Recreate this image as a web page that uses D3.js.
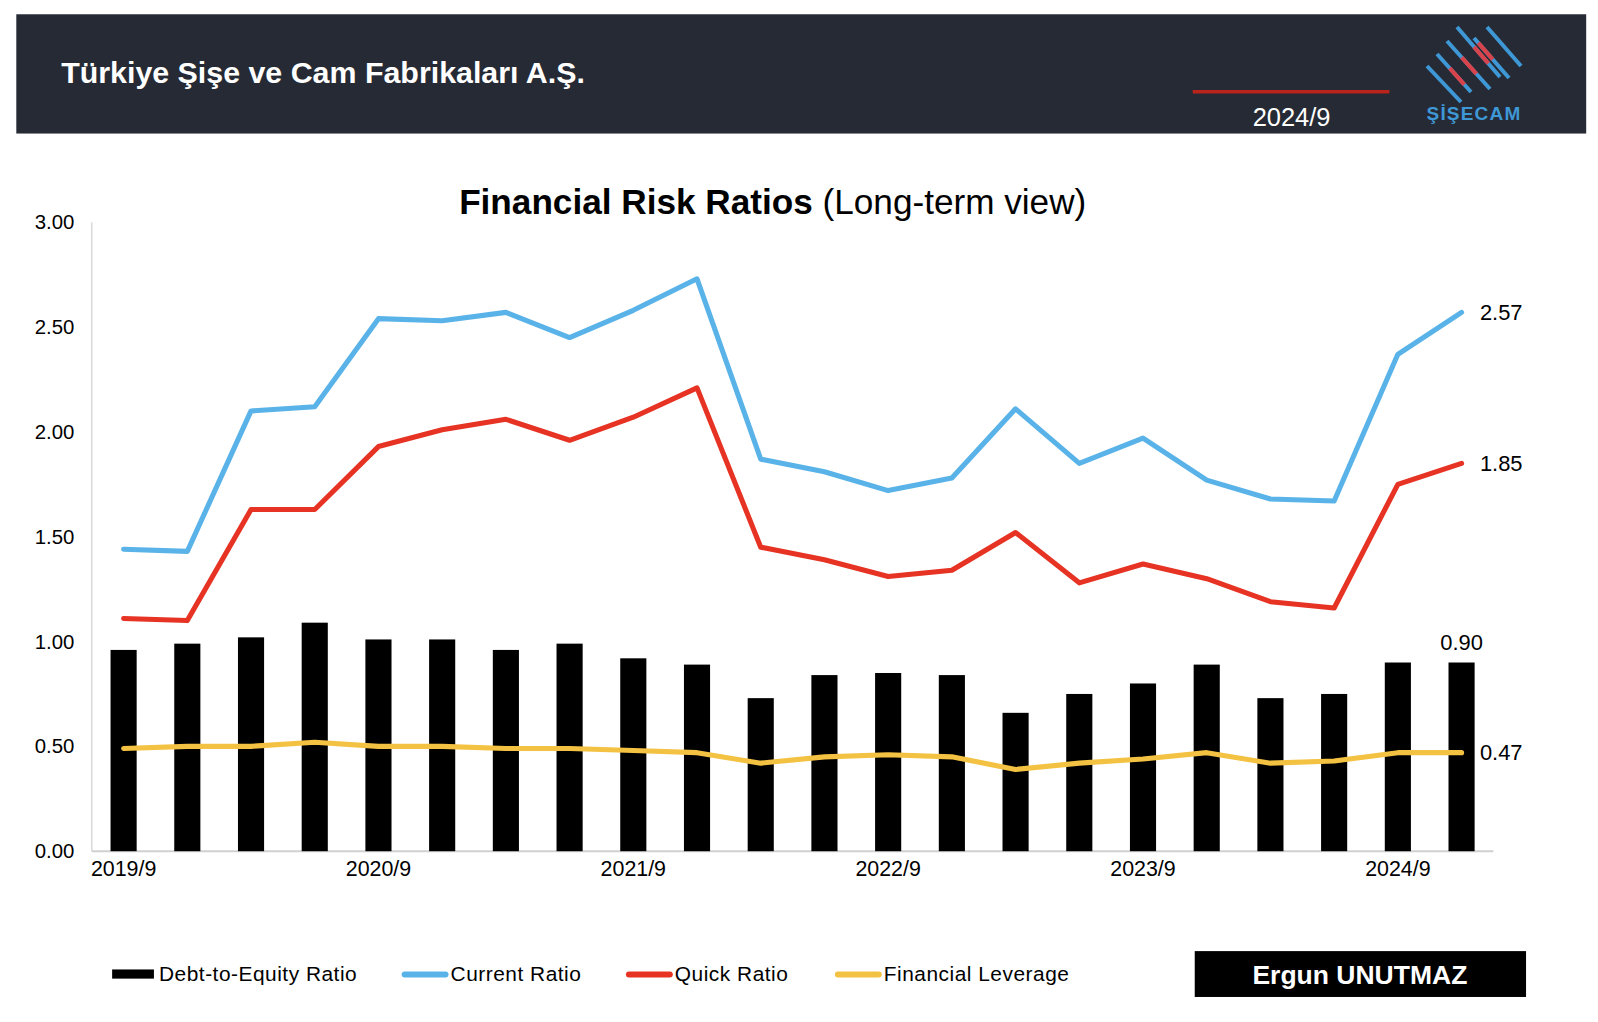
<!DOCTYPE html>
<html>
<head>
<meta charset="utf-8">
<script src="https://cdn.jsdelivr.net/npm/d3@7"></script>
<style>
  body { margin: 0; background: #fff; }
  svg { display: block; font-family: "Liberation Sans", Arial, Helvetica, sans-serif; }
</style>
</head>
<body>
<svg id="chart" width="1598" height="1022"></svg>
<script>
// quarterly periods, 2019/9 .. 2024/12
const periods = ["2019/9","2019/12","2020/3","2020/6","2020/9","2020/12","2021/3","2021/6",
  "2021/9","2021/12","2022/3","2022/6","2022/9","2022/12","2023/3","2023/6",
  "2023/9","2023/12","2024/3","2024/6","2024/9","2024/12"];
const tickLabels = ["2019/9","2020/9","2021/9","2022/9","2023/9","2024/9"];
const yTicks = [0, 0.5, 1, 1.5, 2, 2.5, 3];

const debtToEquity = [0.96,0.99,1.02,1.09,1.01,1.01,0.96,0.99,0.92,0.89,0.73,0.84,
  0.85,0.84,0.66,0.75,0.80,0.89,0.73,0.75,0.90,0.90];
const currentRatio = [1.44,1.43,2.10,2.12,2.54,2.53,2.57,2.45,2.58,2.73,1.87,1.81,
  1.72,1.78,2.11,1.85,1.97,1.77,1.68,1.67,2.37,2.57];
const quickRatio = [1.11,1.10,1.63,1.63,1.93,2.01,2.06,1.96,2.07,2.21,1.45,1.39,
  1.31,1.34,1.52,1.28,1.37,1.30,1.19,1.16,1.75,1.85];
const finLeverage = [0.49,0.50,0.50,0.52,0.50,0.50,0.49,0.49,0.48,0.47,0.42,0.45,
  0.46,0.45,0.39,0.42,0.44,0.47,0.42,0.43,0.47,0.47];

const colors = { bar: "#000000", current: "#5ab3e8", quick: "#e63323", leverage: "#f4c242" };

const svg = d3.select("#chart");
// layout was measured on a slightly smaller copy, so scale it up
const root = svg.append("g").attr("transform", "scale(1.0194)");

// header band
root.append("rect").attr("x", 16).attr("y", 14).attr("width", 1540).attr("height", 117)
  .attr("fill", "#252a35");
root.append("text").attr("x", 60).attr("y", 81).attr("fill", "#fff")
  .attr("font-size", 29.8).attr("font-weight", "bold")
  .text("Türkiye Şişe ve Cam Fabrikaları A.Ş.");
root.append("line").attr("x1", 1170).attr("x2", 1363).attr("y1", 90).attr("y2", 90)
  .attr("stroke", "#b8241c").attr("stroke-width", 3.5);
root.append("text").attr("x", 1267).attr("y", 124).attr("text-anchor", "middle")
  .attr("fill", "#fff").attr("font-size", 25).text("2024/9");

// logo (decorative, page pixels)
const logo = svg.append("g");
const logoLines = [[1427, 66, 1461, 102], [1437, 54, 1471, 92], [1447, 41, 1490, 89],
  [1457, 27, 1500, 77], [1474, 38, 1509, 78], [1487, 27, 1521, 66]];
logoLines.forEach(([x1, y1, x2, y2]) => {
  logo.append("line").attr("x1", x1).attr("y1", y1).attr("x2", x2).attr("y2", y2)
    .attr("stroke", "#3f98d6").attr("stroke-width", 4);
});
// red centre pieces: the part of lines 2-5 nearest the logo centre
const lc = [1472, 63];
logoLines.slice(1, 5).forEach(([x1, y1, x2, y2]) => {
  const dx = x2 - x1, dy = y2 - y1, len = Math.hypot(dx, dy);
  const ux = dx / len, uy = dy / len;
  const t = (lc[0] - x1) * ux + (lc[1] - y1) * uy;
  const px = x1 + ux * t, py = y1 + uy * t;
  logo.append("line")
    .attr("x1", px - ux * 11).attr("y1", py - uy * 11)
    .attr("x2", px + ux * 11).attr("y2", py + uy * 11)
    .attr("stroke", "#d8444c").attr("stroke-width", 4.2);
});
logo.append("text").attr("x", 1474).attr("y", 120).attr("text-anchor", "middle")
  .attr("fill", "#3f98d6").attr("font-size", 19).attr("font-weight", "bold")
  .attr("letter-spacing", 1.2).text("ŞİŞECAM");

// chart title
const title = root.append("text").attr("x", 758).attr("y", 210).attr("text-anchor", "middle")
  .attr("font-size", 34.5).attr("fill", "#000");
title.append("tspan").attr("font-weight", "bold").text("Financial Risk Ratios");
title.append("tspan").text(" (Long-term view)");

// scales
const x = d3.scaleBand().domain(periods).range([90, 1465]).paddingInner(0.59).paddingOuter(0.295);
const y = d3.scaleLinear().domain([0, 3]).range([835, 218]);
const cx = d => x(d) + x.bandwidth() / 2;

const g = root.append("g");

// axis lines
g.append("line").attr("x1", 90).attr("x2", 90).attr("y1", y(3)).attr("y2", y(0))
  .attr("stroke", "#d9d9d9").attr("stroke-width", 1.5);
g.append("line").attr("x1", 90).attr("x2", 1465).attr("y1", y(0)).attr("y2", y(0))
  .attr("stroke", "#d0d0d0").attr("stroke-width", 2);

const yAxis = d3.axisLeft(y).tickValues(yTicks).tickFormat(d3.format(".2f")).tickSize(0).tickPadding(0);
const ya = g.append("g").attr("transform", "translate(73,0)").call(yAxis);
ya.select(".domain").remove();
ya.selectAll("text").attr("font-size", 20).attr("fill", "#000")
  .attr("font-family", "Liberation Sans, Arial, sans-serif");

const xAxis = d3.axisBottom(x).tickValues(tickLabels).tickSize(0).tickPadding(0);
const xa = g.append("g").attr("transform", `translate(0,${y(0) + 9})`).call(xAxis);
xa.select(".domain").remove();
xa.selectAll("text").attr("font-size", 21).attr("fill", "#000")
  .attr("font-family", "Liberation Sans, Arial, sans-serif");

// bars
g.selectAll(".bar").data(debtToEquity).enter().append("rect")
  .attr("class", "bar")
  .attr("x", (d, i) => x(periods[i]))
  .attr("y", d => y(d))
  .attr("width", x.bandwidth())
  .attr("height", d => y(0) - y(d))
  .attr("fill", colors.bar);

// lines
const line = d3.line().x((d, i) => cx(periods[i])).y(d => y(d));
[[currentRatio, colors.current], [quickRatio, colors.quick], [finLeverage, colors.leverage]]
  .forEach(([vals, col]) => {
    g.append("path").datum(vals).attr("d", line).attr("fill", "none")
      .attr("stroke", col).attr("stroke-width", 5)
      .attr("stroke-linejoin", "round").attr("stroke-linecap", "round");
  });

// end labels
const last = periods.length - 1;
const endX = cx(periods[last]) + 18;
[currentRatio[last], quickRatio[last], finLeverage[last]].forEach(v => {
  g.append("text").attr("x", endX).attr("y", y(v)).attr("dy", "0.35em")
    .attr("font-size", 21.5).text(v.toFixed(2));
});
g.append("text").attr("x", cx(periods[last])).attr("y", y(debtToEquity[last]) - 20)
  .attr("dy", "0.35em").attr("text-anchor", "middle").attr("font-size", 21.5)
  .text(debtToEquity[last].toFixed(2));

// legend
const legend = root.append("g").attr("transform", "translate(0,955)");
const items = [
  { label: "Debt-to-Equity Ratio", color: colors.bar, type: "rect", x: 110 },
  { label: "Current Ratio", color: colors.current, type: "line", x: 397 },
  { label: "Quick Ratio", color: colors.quick, type: "line", x: 617 },
  { label: "Financial Leverage", color: colors.leverage, type: "line", x: 822 }
];
items.forEach(it => {
  if (it.type === "rect") {
    legend.append("rect").attr("x", it.x).attr("y", -4).attr("width", 41).attr("height", 9)
      .attr("fill", it.color);
  } else {
    legend.append("line").attr("x1", it.x).attr("x2", it.x + 40).attr("y1", 1).attr("y2", 1)
      .attr("stroke", it.color).attr("stroke-width", 6).attr("stroke-linecap", "round");
  }
  legend.append("text").attr("x", it.x + (it.type === "rect" ? 46 : 45)).attr("y", 0)
    .attr("dy", "0.35em").attr("font-size", 20.5).attr("letter-spacing", 0.5).text(it.label);
});

// author box
root.append("rect").attr("x", 1172).attr("y", 933).attr("width", 325).attr("height", 45)
  .attr("fill", "#000");
root.append("text").attr("x", 1334).attr("y", 965).attr("text-anchor", "middle")
  .attr("fill", "#fff").attr("font-size", 26).attr("font-weight", "bold").text("Ergun UNUTMAZ");
</script>
</body>
</html>
